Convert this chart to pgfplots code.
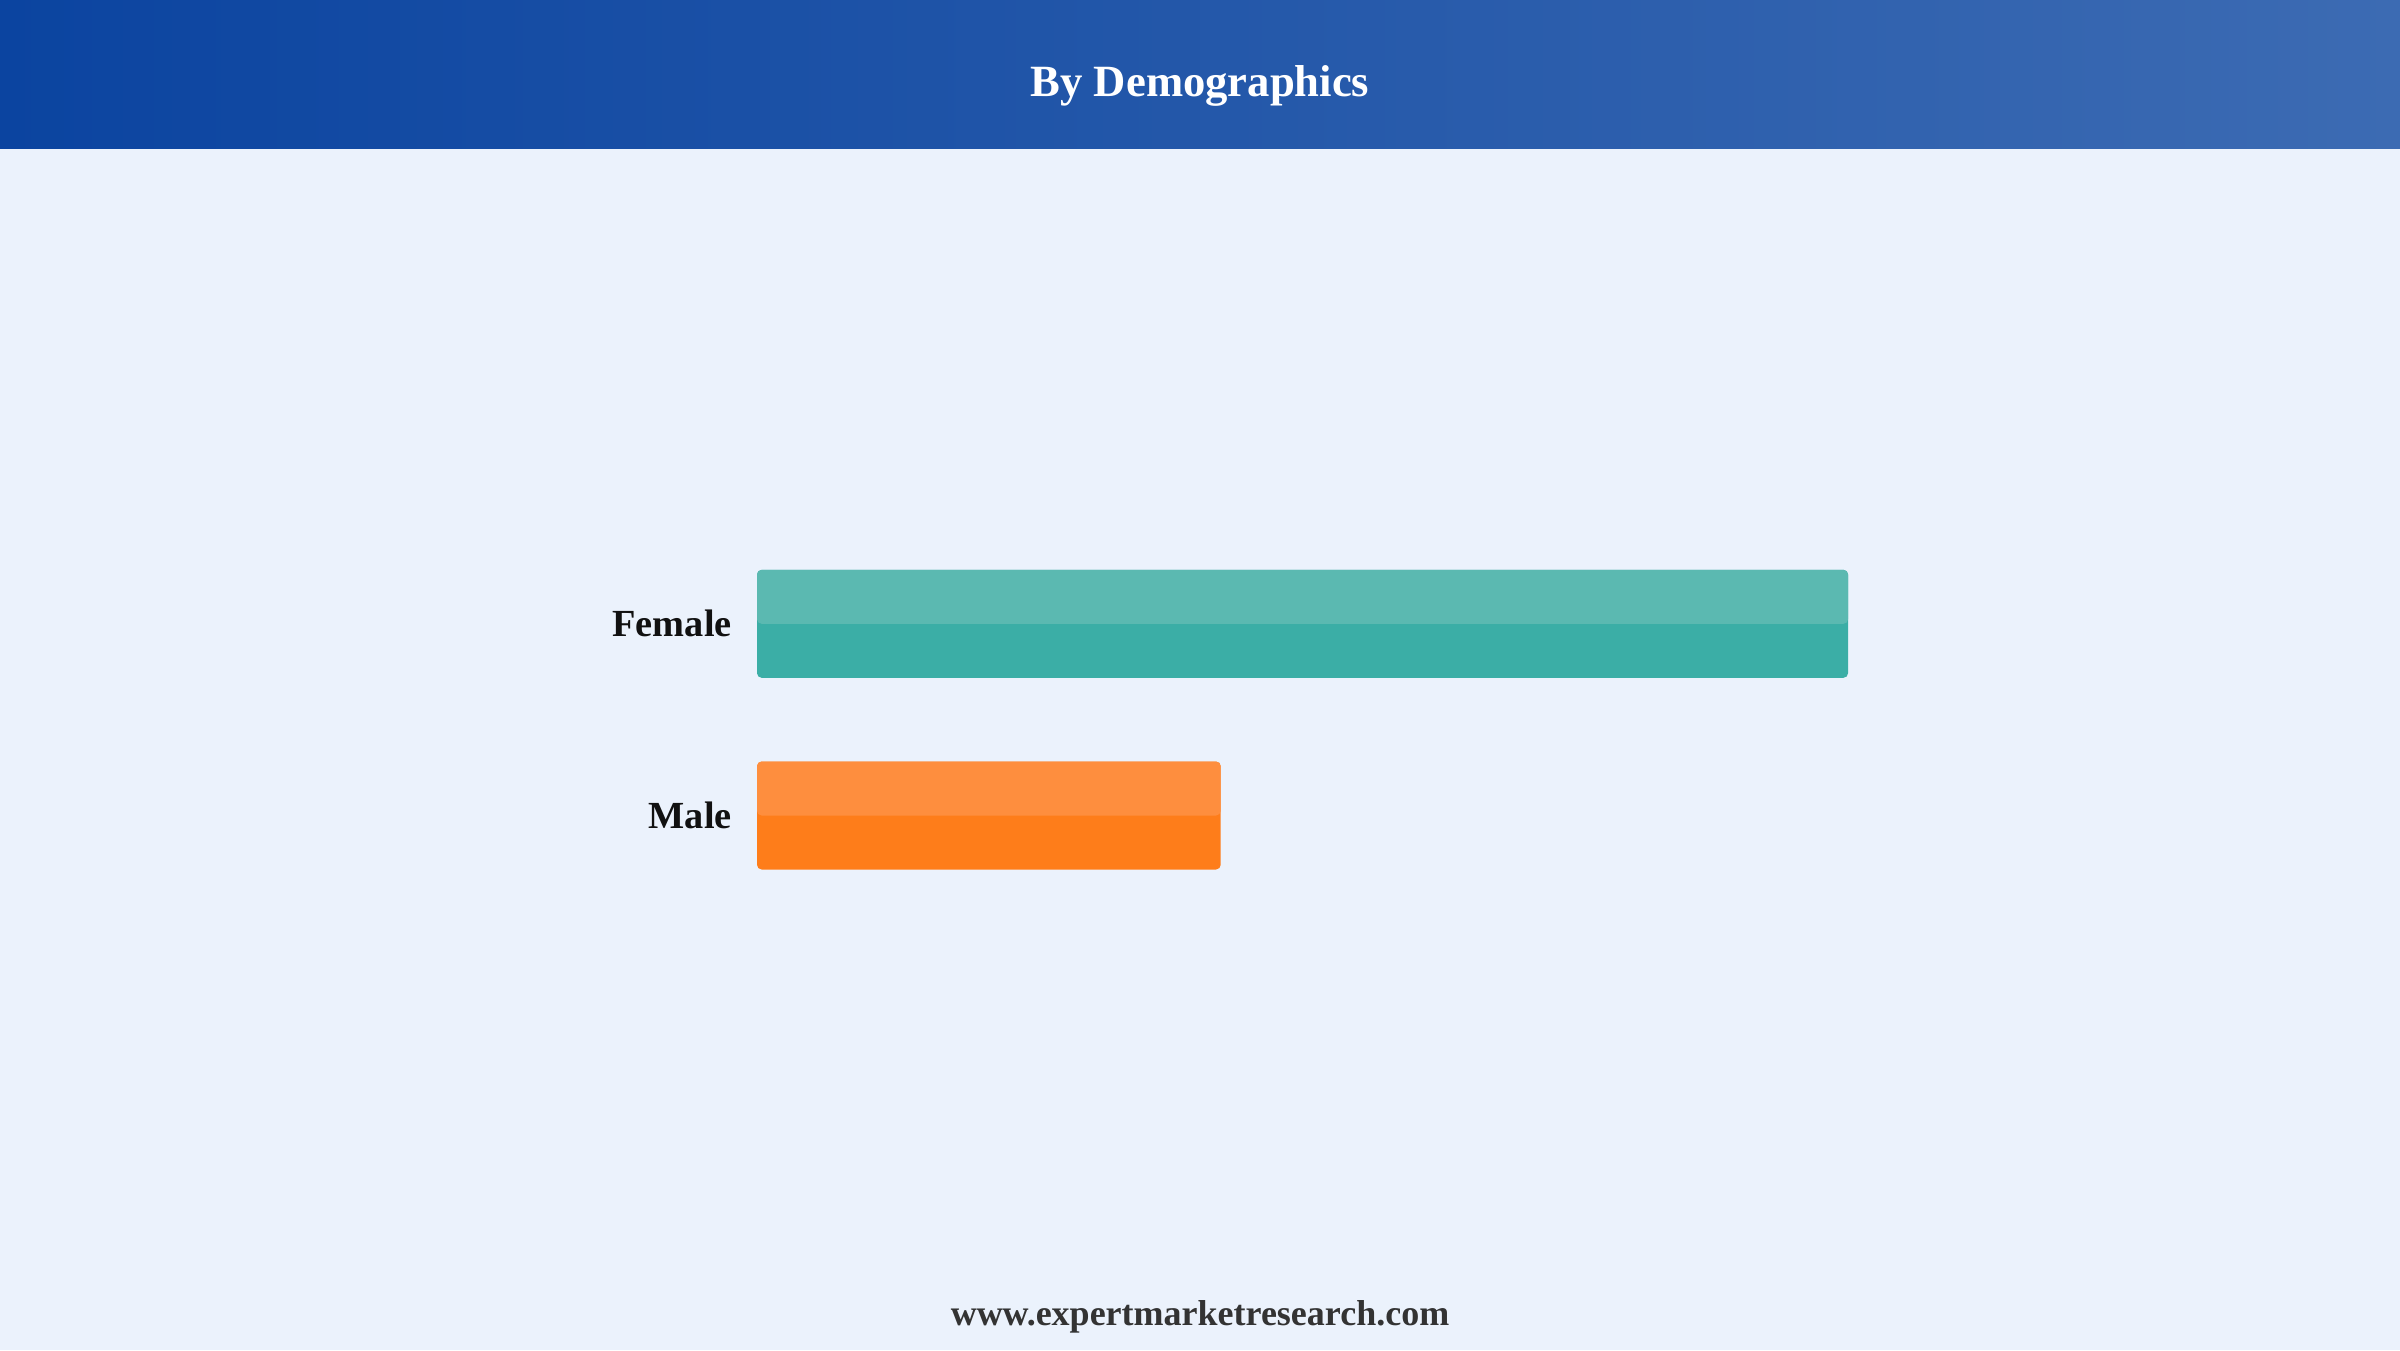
\documentclass[border=0pt]{standalone}
\usepackage{pgfplots}
\pgfplotsset{compat=1.18}
\usepackage{fontspec}
\setmainfont{Liberation Serif}
\definecolor{bg}{HTML}{EBF2FC}
\definecolor{hdrL}{HTML}{0B44A0}
\definecolor{hdrR}{HTML}{3C6BB3}
\definecolor{femB}{HTML}{3BAEA6}
\definecolor{femT}{HTML}{5BB9B1}
\definecolor{maleB}{HTML}{FE7D1A}
\definecolor{maleT}{HTML}{FE8E3E}
\definecolor{footc}{HTML}{333333}
\definecolor{labelc}{HTML}{111111}
\begin{document}
\begin{tikzpicture}
\fill[bg] (0,0) rectangle (720pt,405pt);
\shade[left color=hdrL, right color=hdrR] (0,360.3pt) rectangle (720pt,405pt);
\node[text=white, font=\fontsize{13.4}{16}\selectfont\bfseries, anchor=base, inner sep=0pt] at (360pt,376.0pt) {By Demographics};
\node[text=footc, font=\fontsize{10.8}{13}\selectfont\bfseries, anchor=base, inner sep=0pt] at (360pt,7.35pt) {www.expertmarketresearch.com};
\begin{axis}[
  at={(227.1pt,74.1pt)}, anchor=south west,
  scale only axis, width=467.6pt, height=230pt,
  xmin=0, xmax=100, ymin=-1.5, ymax=2.5,
  axis line style={draw=none},
  xtick=\empty, ytick={0,1}, yticklabels={Male,Female},
  major tick length=0pt,
  yticklabel style={font=\fontsize{11.5}{14}\selectfont\bfseries, text=labelc, inner sep=0pt, xshift=-7.4pt, anchor=east},
  clip=false,
]
\addplot[xbar, bar width=32.4pt, bar shift=0pt, fill=femB, draw=none, rounded corners=1.4pt] coordinates {(70,1)};
\addplot[xbar, bar width=16.2pt, bar shift=8.1pt, fill=femT, draw=none, rounded corners=1.4pt] coordinates {(70,1)};
\addplot[xbar, bar width=32.4pt, bar shift=0pt, fill=maleB, draw=none, rounded corners=1.4pt] coordinates {(29.75,0)};
\addplot[xbar, bar width=16.2pt, bar shift=8.1pt, fill=maleT, draw=none, rounded corners=1.4pt] coordinates {(29.75,0)};
\end{axis}
\end{tikzpicture}
\end{document}
